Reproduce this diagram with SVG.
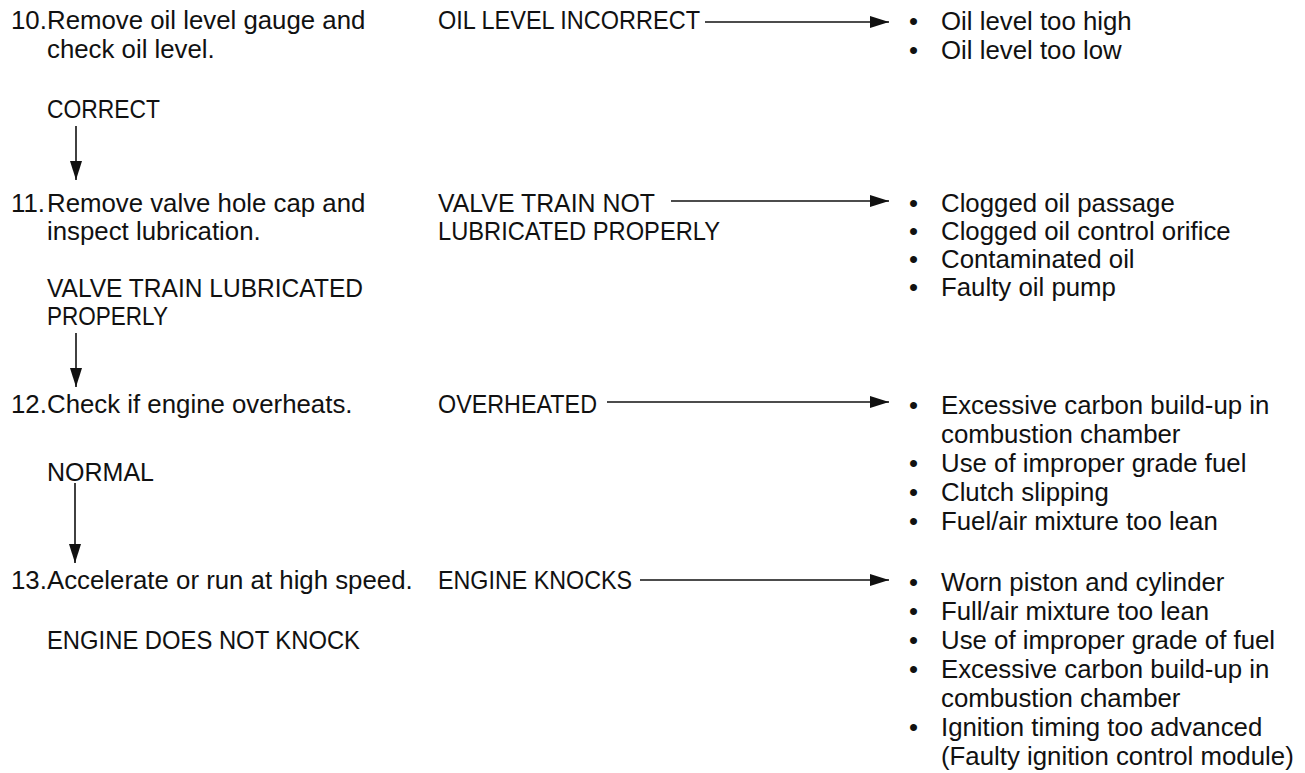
<svg xmlns="http://www.w3.org/2000/svg" width="1305" height="773" viewBox="0 0 1305 773">
<style>
text{font-family:"Liberation Sans",Arial,sans-serif;font-size:25.8px;fill:#111}
.ln{stroke:#111;stroke-width:1.6;fill:none}
</style>
<defs>
<marker id="ah" viewBox="0 0 12 20" refX="6" refY="20" markerWidth="12" markerHeight="20" markerUnits="userSpaceOnUse" orient="auto-start-reverse">
<path d="M0,0 L12,0 L6,20 Z" fill="#111"/>
</marker>
<marker id="ahr" viewBox="0 0 19 12" refX="19" refY="6" markerWidth="19" markerHeight="12" markerUnits="userSpaceOnUse" orient="auto">
<path d="M0,0 L19,6 L0,12 Z" fill="#111"/>
</marker>
</defs>
<rect width="1305" height="773" fill="#fff"/>

<g id="step10"><text x="11" y="29">10.</text><text x="47" y="29">Remove oil level gauge and</text><text x="47" y="58">check oil level.</text><text x="47" y="118" textLength="113" lengthAdjust="spacingAndGlyphs">CORRECT</text></g>
<g id="cond10"><text x="438" y="29" textLength="262" lengthAdjust="spacingAndGlyphs">OIL LEVEL INCORRECT</text></g>
<g id="cause10"><text x="909" y="30">•</text><text x="941" y="30">Oil level too high</text><text x="909" y="59">•</text><text x="941" y="59">Oil level too low</text></g>

<g id="step11"><text x="11" y="212">11.</text><text x="47" y="212">Remove valve hole cap and</text><text x="47" y="240">inspect lubrication.</text><text x="47" y="297" textLength="316" lengthAdjust="spacingAndGlyphs">VALVE TRAIN LUBRICATED</text><text x="47" y="325" textLength="121" lengthAdjust="spacingAndGlyphs">PROPERLY</text></g>
<g id="cond11"><text x="438" y="212" textLength="217" lengthAdjust="spacingAndGlyphs">VALVE TRAIN NOT</text><text x="438" y="240" textLength="282" lengthAdjust="spacingAndGlyphs">LUBRICATED PROPERLY</text></g>
<g id="cause11"><text x="909" y="212">•</text><text x="941" y="212">Clogged oil passage</text><text x="909" y="240">•</text><text x="941" y="240">Clogged oil control orifice</text><text x="909" y="268">•</text><text x="941" y="268">Contaminated oil</text><text x="909" y="296">•</text><text x="941" y="296">Faulty oil pump</text></g>

<g id="step12"><text x="11" y="413">12.</text><text x="47" y="413">Check if engine overheats.</text><text x="47" y="481" textLength="107" lengthAdjust="spacingAndGlyphs">NORMAL</text></g>
<g id="cond12"><text x="438" y="413" textLength="159" lengthAdjust="spacingAndGlyphs">OVERHEATED</text></g>
<g id="cause12"><text x="909" y="414">•</text><text x="941" y="414">Excessive carbon build-up in</text><text x="941" y="443">combustion chamber</text><text x="909" y="472">•</text><text x="941" y="472">Use of improper grade fuel</text><text x="909" y="501">•</text><text x="941" y="501">Clutch slipping</text><text x="909" y="530">•</text><text x="941" y="530">Fuel/air mixture too lean</text></g>

<g id="step13"><text x="11" y="589">13.</text><text x="47" y="589">Accelerate or run at high speed.</text><text x="47" y="649" textLength="313" lengthAdjust="spacingAndGlyphs">ENGINE DOES NOT KNOCK</text></g>
<g id="cond13"><text x="438" y="589" textLength="194" lengthAdjust="spacingAndGlyphs">ENGINE KNOCKS</text></g>
<g id="cause13"><text x="909" y="591">•</text><text x="941" y="591">Worn piston and cylinder</text><text x="909" y="620">•</text><text x="941" y="620">Full/air mixture too lean</text><text x="909" y="649">•</text><text x="941" y="649">Use of improper grade of fuel</text><text x="909" y="678">•</text><text x="941" y="678">Excessive carbon build-up in</text><text x="941" y="707">combustion chamber</text><text x="909" y="736">•</text><text x="941" y="736">Ignition timing too advanced</text><text x="941" y="765">(Faulty ignition control module)</text></g>

<g id="connectors">
<line class="ln" x1="76" y1="126" x2="76" y2="180" marker-end="url(#ahr)"/>
<line class="ln" x1="76" y1="333" x2="76" y2="387" marker-end="url(#ahr)"/>
<line class="ln" x1="75" y1="483" x2="75" y2="563" marker-end="url(#ahr)"/>
<line class="ln" x1="705" y1="22" x2="889" y2="22" marker-end="url(#ahr)"/>
<line class="ln" x1="671" y1="201" x2="889" y2="201" marker-end="url(#ahr)"/>
<line class="ln" x1="607" y1="402" x2="889" y2="402" marker-end="url(#ahr)"/>
<line class="ln" x1="640" y1="580" x2="889" y2="580" marker-end="url(#ahr)"/>
</g>
</svg>
